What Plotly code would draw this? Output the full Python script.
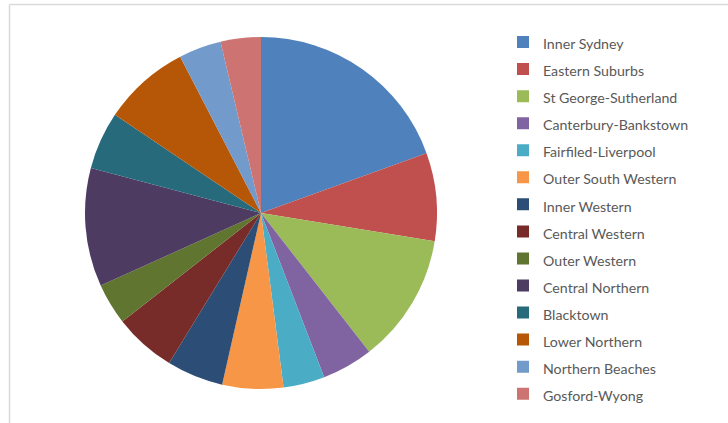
import plotly.graph_objects as go

regions = ["Inner Sydney", "Eastern Suburbs", "St George-Sutherland", "Canterbury-Bankstown",
           "Fairfiled-Liverpool", "Outer South Western", "Inner Western", "Central Western",
           "Outer Western", "Central Northern", "Blacktown", "Lower Northern",
           "Northern Beaches", "Gosford-Wyong"]
shares = [19.5, 8.1, 11.9, 4.7, 3.8, 5.6, 5.2, 5.7, 3.8, 10.9, 5.3, 8.0, 3.9, 3.7]
colors = ["#4F81BD", "#C0504D", "#9BBB59", "#8064A2", "#4BACC6", "#F79646",
          "#2C4D75", "#772C2A", "#5F7530", "#4D3B62", "#276A7C", "#B65708",
          "#729ACA", "#CD7371"]

W, H = 728, 423
cx, cy, r = 261, 213, 176

fig = go.Figure(go.Pie(
    labels=[f'<span style="font-size:14.2px">{t}</span>' for t in regions],
    values=shares,
    sort=False,
    direction="clockwise",
    rotation=0,
    marker=dict(colors=colors, line=dict(width=0)),
    textinfo="none",
    hoverinfo="label+percent",
    domain=dict(x=[(cx - r) / W, (cx + r) / W], y=[1 - (cy + r) / H, 1 - (cy - r) / H]),
))

fig.update_layout(
    width=W, height=H,
    margin=dict(l=0, r=0, t=0, b=0),
    paper_bgcolor="white",
    font=dict(family="Lato, Open Sans, sans-serif", color="#595959"),
    legend=dict(
        x=503 / W, xanchor="left",
        y=1 - 23.5 / H, yanchor="top",
        font=dict(size=18.5, color="#595959", family="Lato, Open Sans, sans-serif"),
        bgcolor="rgba(0,0,0,0)",
    ),
    shapes=[
        dict(type="line", xref="paper", yref="paper", x0=9.5 / W, x1=1.05, y0=1 - 4.5 / H, y1=1 - 4.5 / H,
             line=dict(color="#d9d9d9", width=1.5)),
        dict(type="line", xref="paper", yref="paper", x0=9.5 / W, x1=9.5 / W, y0=-0.05, y1=1 - 4.5 / H,
             line=dict(color="#d9d9d9", width=1.5)),
    ],
)

fig.write_html("out.html", config={"displayModeBar": False},
               post_script="document.body.style.margin='0';")
